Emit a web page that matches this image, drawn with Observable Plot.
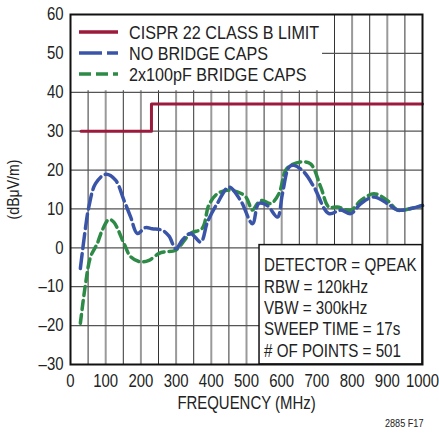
<!DOCTYPE html>
<html>
<head>
<meta charset="utf-8">
<script src="https://cdn.jsdelivr.net/npm/d3@7"></script>
<script src="https://cdn.jsdelivr.net/npm/@observablehq/plot@0.6"></script>
<style>
  html, body { margin: 0; padding: 0; background: #fff; }
  svg { display: block; }
</style>
</head>
<body>
<div id="chart"></div>
<script>
// ---- data ----
const limitFreq = [30, 230, 230, 1000];
const limitVals = [30, 30, 37, 37];

const blueFreq = [28, 43, 52, 71, 100, 128, 152, 171, 190, 213, 232, 261, 280, 299, 318, 341, 370, 389, 417, 450, 483, 517, 535, 559, 588, 602, 621, 635, 663, 692, 734, 768, 796, 825, 862, 900, 929, 967, 1000];
const blueVals = [-5.3, 5.4, 10.5, 16.5, 18.9, 17.4, 12.2, 7.9, 3.7, 5.2, 4.9, 4.5, 3.0, -0.2, 2.0, 3.7, 1.5, 6.6, 11.4, 15.6, 12.2, 6.2, 11.4, 10.9, 7.9, 13.9, 20.8, 21.2, 19.5, 15.6, 8.8, 9.7, 8.8, 11.4, 13.1, 11.4, 9.7, 10.1, 10.9];

const greenFreq = [28, 43, 57, 76, 90, 109, 123, 152, 171, 199, 223, 252, 270, 299, 341, 374, 393, 417, 446, 474, 498, 517, 531, 545, 569, 592, 611, 626, 654, 682, 711, 734, 758, 796, 825, 862, 900, 929, 967, 1000];
const greenVals = [-19.4, -9.1, -2.3, 1.1, 4.5, 7.3, 6.6, 1.1, -2.3, -3.6, -3.2, -1.4, -1.0, -0.6, 3.7, 5.0, 11.0, 13.9, 14.8, 14.4, 13.1, 9.7, 11.4, 12.2, 11.4, 13.9, 19.9, 21.2, 22.1, 21.6, 15.6, 10.5, 10.5, 9.7, 12.2, 13.9, 12.2, 9.7, 10.1, 10.9];

const xTicks = [0, 100, 200, 300, 400, 500, 600, 700, 800, 900, 1000];
const yTicks = [-30, -20, -10, 0, 10, 20, 30, 40, 50, 60];
const gridMajorX = [100, 200, 300, 400, 500, 600, 700, 800, 900];
const gridMinorX = [50, 150, 250, 350, 450, 550, 650, 750, 850, 950];
const gridY = [-20, -10, 0, 10, 20, 30, 40, 50];

const seriesNames = ["CISPR 22 CLASS B LIMIT", "NO BRIDGE CAPS", "2x100pF BRIDGE CAPS"];
const noteLines = ["DETECTOR = QPEAK", "RBW = 120kHz", "VBW = 300kHz", "SWEEP TIME = 17s", "# OF POINTS = 501"];
const yLabel = "(dBμV/m)";
const xLabel = "FREQUENCY (MHz)";
const figId = "2885 F17";

const RED = "#9c1a3c", BLUE = "#3a55a8", GREEN = "#2e8a47";
const FONT = "'Liberation Sans', Arial, sans-serif";

const limit = limitFreq.map((f, i) => ({f, v: limitVals[i]}));
const blue = blueFreq.map((f, i) => ({f, v: blueVals[i]}));
const green = greenFreq.map((f, i) => ({f, v: greenVals[i]}));

const plot = Plot.plot({
  width: 439,
  height: 434,
  marginLeft: 70,
  marginRight: 17,
  marginTop: 14,
  marginBottom: 70,
  style: {fontFamily: FONT, color: "#222", background: "#fff"},
  x: {domain: [0, 1000]},
  y: {domain: [-30, 60]},
  marks: [
    Plot.ruleX(gridMajorX, {y1: -30, y2: 60, stroke: "#9a9a9a", strokeWidth: 2}),
    Plot.ruleX(gridMinorX, {y1: -30, y2: 60, stroke: "#333", strokeWidth: 1}),
    Plot.ruleY(gridY, {x1: 0, x2: 1000, stroke: "#555", strokeWidth: 1.2}),
    Plot.rect([0], {x1: 0, x2: 716, y1: 40.4, y2: 60, fill: "white"}),
    Plot.rect([0], {x1: 537, x2: 1000, y1: -30, y2: 0.7, fill: "white", stroke: "#111", strokeWidth: 1.5}),
    Plot.line(limit, {x: "f", y: "v", stroke: RED, strokeWidth: 3}),
    Plot.line(green, {x: "f", y: "v", stroke: GREEN, strokeWidth: 3.5, strokeDasharray: "9 5", curve: "catmull-rom"}),
    Plot.line(blue, {x: "f", y: "v", stroke: BLUE, strokeWidth: 3.5, strokeDasharray: "15 5", curve: "catmull-rom"}),
    Plot.frame({stroke: "#111", strokeWidth: 2}),
    Plot.axisX({ticks: xTicks, tickSize: 0, tickPadding: 10, fontSize: 18, label: null, tickFormat: d => String(d)}),
    Plot.axisY({ticks: yTicks, tickSize: 0, tickPadding: 7, fontSize: 18, label: null, tickFormat: d => d < 0 ? "\u2013" + Math.abs(d) : String(d)}),
    Plot.text([yLabel], {frameAnchor: "left", dx: -57, rotate: -90, textAnchor: "middle", fontSize: 17, fill: "#222"}),
    Plot.text([xLabel], {frameAnchor: "bottom", dy: 44, textAnchor: "middle", fontSize: 18, fill: "#222"}),
    Plot.text([figId], {frameAnchor: "bottom-right", dy: 62, dx: 1, textAnchor: "end", fontSize: 11, fill: "#222"})
  ]
});

document.getElementById("chart").append(plot);

// ---- legend & annotation overlay ----
const svg = d3.select(plot);
const sx = plot.scale("x"), sy = plot.scale("y");
const left = sx.apply(0);
const legend = svg.append("g").attr("class", "legend").attr("font-family", FONT).attr("font-size", 19).attr("fill", "#222").attr("text-anchor", "start");
const styles = [
  {stroke: RED, dash: null},
  {stroke: BLUE, dash: "23 5"},
  {stroke: GREEN, dash: "12 5"}
];
seriesNames.forEach((name, i) => {
  const y = 32 + i * 21;
  legend.append("line")
    .attr("x1", left + 9).attr("x2", left + 48)
    .attr("y1", y).attr("y2", y)
    .attr("stroke", styles[i].stroke).attr("stroke-width", 3.5)
    .attr("stroke-dasharray", styles[i].dash);
  legend.append("text").attr("x", left + 59).attr("y", y).attr("dy", "0.36em").attr("data-sc", 0.85).text(name);
});

const noteX = sx.apply(537) + 5;
const noteTop = sy.apply(0.7);
const note = svg.append("g").attr("class", "note").attr("font-family", FONT).attr("font-size", 18.5).attr("fill", "#222").attr("text-anchor", "start");
noteLines.forEach((t, i) => {
  note.append("text").attr("x", noteX).attr("y", noteTop + 20 + i * 21.4).attr("dy", "0.36em").attr("data-sc", 0.82).text(t);
});

// condense all text horizontally (narrow typeface look)
svg.selectAll("text").each(function() {
  const el = this;
  const s = +(el.getAttribute("data-sc") || 0.83);
  const x = parseFloat(el.getAttribute("x") || 0) || 0;
  const y = parseFloat(el.getAttribute("y") || 0) || 0;
  const t = el.getAttribute("transform") || "";
  el.setAttribute("transform", `${t} translate(${x},${y}) scale(${s},1) translate(${-x},${-y})`);
});
</script>
</body>
</html>
